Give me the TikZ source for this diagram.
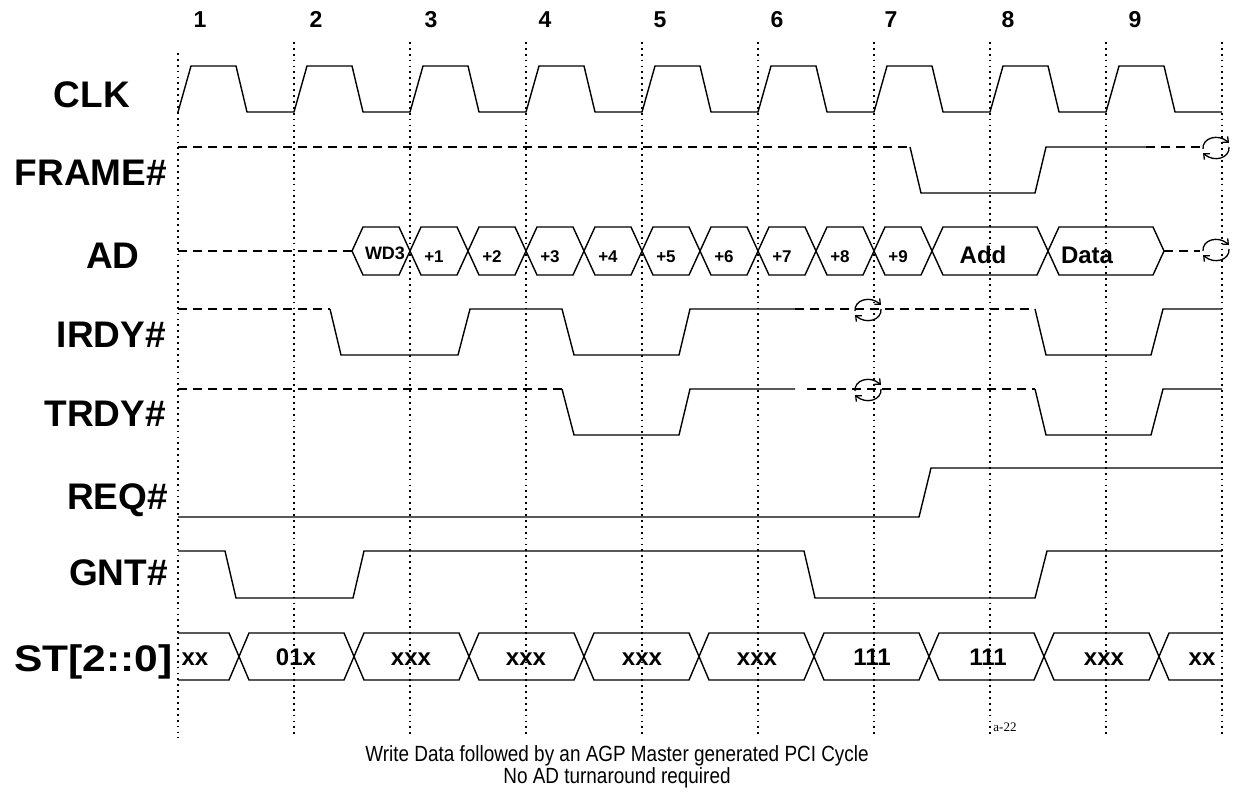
\documentclass[tikz,border=0pt]{standalone}
\usepackage{fontspec}
\setmainfont{Liberation Sans}
\newfontfamily\figfont{Liberation Serif}
\usetikzlibrary{arrows.meta}

% turnaround marker
\newcommand{\turnmark}[2]{%
  \draw[turn] (#1-13,#2+1) .. controls (#1-14,#2-10) and (#1+2,#2-15) .. (#1+13,#2-5);
  \draw[turn] (#1+13,#2-1) .. controls (#1+14,#2+10) and (#1-2,#2+15) .. (#1-13,#2+5);}

\begin{document}
\begin{tikzpicture}[x=1pt,y=-1pt,
  sigline/.style={black,line width=1.4pt,line join=miter},
  hiz/.style={black,line width=1.4pt,dash pattern=on 9pt off 6pt},
  clkmark/.style={black,line width=1.8pt,dash pattern=on 1.8pt off 4.1pt},
  turn/.style={black,line width=1.3pt,-{Straight Barb[length=4.5pt,width=8pt]}},
  signame/.style={font=\fontsize{37}{37}\selectfont\bfseries},
  clknum/.style={font=\fontsize{23}{23}\selectfont\bfseries,anchor=base},
  adsmall/.style={font=\fontsize{17}{17}\selectfont\bfseries,anchor=base},
  adbig/.style={font=\fontsize{24}{24}\selectfont\bfseries,anchor=base},
  stname/.style={font=\fontsize{24}{24}\selectfont\bfseries,anchor=base},
  caption/.style={font=\fontsize{22}{22}\selectfont}]
\tikzstyle{every node}+=[inner sep=0pt]
\useasboundingbox (0,0) rectangle (1233,797);

% clock edges
\draw[clkmark] (178,53) -- (178,738);
\foreach \i in {1,...,9}
  \draw[clkmark] ({178+116*\i},42) -- ({178+116*\i},738);
\foreach \x/\t in {200/1,316/2,431/3,545/4,660/5,777/6,891/7,1008/8,1135/9}
  \node[clknum] (num\t) at (\x,28) {\t};

% signal names
\node[signame,anchor=base] (clk) at (92,108) {CLK};
\node[signame,anchor=base east] (frame) at (167,185) {FRAME\#};
\node[signame,anchor=base] (ad) at (113,268) {AD};
\node[signame,anchor=base east] (irdy) at (166,347) {IRDY\#};
\node[signame,anchor=base east] (trdy) at (166,426) {TRDY\#};
\node[signame,anchor=base east] (req) at (168,509) {REQ\#};
\node[signame,anchor=base east] (gnt) at (168,585) {GNT\#};
\node[signame,anchor=base east] (st) at (173,671) {\scalebox{1.15}[1]{ST[2::0]}};

% CLK
\draw[sigline] (178,112) \foreach \i in {0,...,8} { -- ++(13,-46) -- ++(45,0) -- ++(11,46) -- ++(47,0) };

% FRAME#
\draw[hiz] (178,147) -- (910,147);
\draw[sigline] (910,147) -- (921,193) -- (1035,193) -- (1046,147) -- (1146,147);
\draw[hiz] (1146,147) -- (1200,147);
\turnmark{1216}{148}

% AD
\draw[hiz] (178,251) -- (352,251);
\foreach \xa/\xb in {352/410,410/468,468/526,526/584,584/642,642/700,700/758,758/816,816/874,874/932,932/1048,1048/1164}
  \draw[sigline] (\xa,251) -- (\xa+11,227) -- (\xb-11,227) -- (\xb,251) -- (\xb-11,275) -- (\xa+11,275) -- cycle;
\node[adsmall,font=\fontsize{18}{18}\selectfont\bfseries] (wd3) at (385,259) {WD3};
\foreach \k in {1,...,9}
  \node[adsmall] (ad\k) at ({434+58*(\k-1)},262) {+\k};
\node[adbig] (addr) at (983,263) {Add};
\node[adbig] (data) at (1087,263) {Data};
\draw[hiz] (1164,251) -- (1200,251);
\turnmark{1216}{250}

% IRDY#
\draw[hiz] (178,309) -- (330,309);
\draw[sigline] (330,309) -- (341,355) -- (458,355) -- (470,309) -- (562,309) -- (574,355) -- (679,355) -- (690,309) -- (795,309);
\draw[hiz] (795,309) -- (1035,309);
\turnmark{868}{310}
\draw[sigline] (1035,309) -- (1046,355) -- (1151,355) -- (1163,309) -- (1222,309);

% TRDY#
\draw[hiz] (178,389) -- (562,389);
\draw[sigline] (562,389) -- (574,435) -- (679,435) -- (690,389) -- (795,389);
\draw[hiz] (807,389) -- (1035,389);
\turnmark{868}{390}
\draw[sigline] (1035,389) -- (1046,435) -- (1151,435) -- (1163,389) -- (1222,389);

% REQ#
\draw[sigline] (178,517) -- (919,517) -- (931,468) -- (1222,468);

% GNT#
\draw[sigline] (178,551) -- (225,551) -- (236,598) -- (353,598) -- (364,551) -- (804,551) -- (815,598) -- (1035,598) -- (1047,551) -- (1222,551);

% ST[2::0]
\draw[sigline] (178,633) -- (229,633) -- (239,656.5) -- (229,680) -- (178,680);
\foreach \k in {1,...,8}
  \draw[sigline] ({239+115*(\k-1)},656.5) -- ++(10,-23.5) -- ({239+115*\k-10},633) -- ({239+115*\k},656.5) -- ({239+115*\k-10},680) -- ({239+115*(\k-1)+10},680) -- cycle;
\draw[sigline] (1222,633) -- (1169,633) -- (1159,656.5) -- (1169,680) -- (1222,680);
\foreach \x/\t [count=\k] in {195/xx,296/01x,411/xxx,526/xxx,642/xxx,757/xxx,872/111,988/111,1104/xxx,1202/xx}
  \node[stname] (stv\k) at (\x,665) {\t};

\node[font=\figfont\fontsize{13}{13}\selectfont] (fig) at (1005,727) {a-22};
\node[caption] (cap1) at (617,756) {\scalebox{0.86}[1]{Write Data followed by an AGP Master generated PCI Cycle}};
\node[caption] (cap2) at (617,778) {\scalebox{0.86}[1]{No AD turnaround required}};
\end{tikzpicture}
\end{document}
